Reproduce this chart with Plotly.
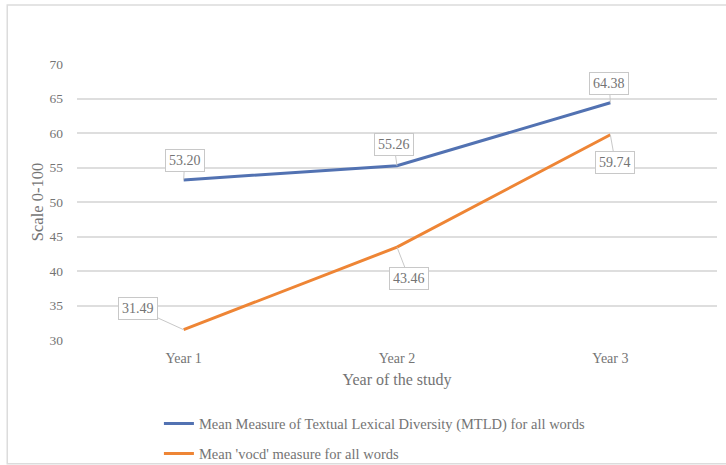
import plotly.graph_objects as go

years = ["Year 1", "Year 2", "Year 3"]
mtld = [53.20, 55.26, 64.38]
vocd = [31.49, 43.46, 59.74]
mtld_name = "Mean Measure of Textual Lexical Diversity (MTLD) for all words"
vocd_name = "Mean 'vocd' measure for all words"
y_ticks = [30, 35, 40, 45, 50, 55, 60, 65, 70]

# label offsets (px) for the callouts
mtld_off = [(1, -19), (-3, -21), (-1, -19)]
vocd_off = [(-46, -21), (12, 31), (5, 28)]

BLUE = "#5272B2"
ORANGE = "#EE8535"
TXT = "#747474"
FONT = "Liberation Serif, Times New Roman, serif"

fig = go.Figure()
fig.add_trace(go.Scatter(x=years, y=mtld, mode="lines", name=mtld_name,
                         legendgroup="a", line=dict(color=BLUE, width=3)))
fig.add_trace(go.Scatter(x=years, y=vocd, mode="lines", name=vocd_name,
                         legendgroup="b", line=dict(color=ORANGE, width=3)))

for series, offs in ((mtld, mtld_off), (vocd, vocd_off)):
    for xv, yv, (ax, ay) in zip(years, series, offs):
        fig.add_annotation(x=xv, y=yv, text=f"{yv:.2f}", showarrow=True,
                           arrowhead=0, arrowwidth=1, arrowcolor="#c8c8c8",
                           ax=ax, ay=ay, bordercolor="#c8c8c8", borderwidth=1,
                           borderpad=3, bgcolor="white",
                           font=dict(family=FONT, size=14, color=TXT))

# outer chart frame
fig.add_shape(type="rect", xref="paper", yref="paper",
              x0=-0.109, x1=1.04, y0=-0.448, y1=1.214,
              line=dict(color="#dcdcdc", width=1.5), layer="below")

fig.update_layout(
    width=726, height=465,
    margin=dict(l=77, r=9, t=64, b=125, autoexpand=False),
    paper_bgcolor="white", plot_bgcolor="white",
    font=dict(family=FONT, color=TXT, size=13),
    showlegend=True,
    legend=dict(orientation="v", x=0.128, y=-0.245, xanchor="left", yanchor="top",
                font=dict(family=FONT, size=14.5, color=TXT),
                traceorder="grouped", tracegroupgap=8, itemwidth=30,
                bgcolor="rgba(0,0,0,0)"),
    xaxis=dict(type="category", range=[-0.5, 2.5], showgrid=False, zeroline=False,
               showline=False, ticks="", tickfont=dict(family=FONT, size=14, color=TXT),
               ticklabelstandoff=8,
               title=dict(text="Year of the study", font=dict(family=FONT, size=16, color=TXT),
                          standoff=8)),
    yaxis=dict(range=[30, 70], tickvals=y_ticks, showgrid=True, gridcolor="#dedede",
               gridwidth=1.5, zeroline=False, showline=False, ticks="",
               tickfont=dict(family=FONT, size=13.5, color=TXT), ticklabelstandoff=13,
               title=dict(text="Scale 0-100", font=dict(family=FONT, size=16.5, color=TXT),
                          standoff=1)),
)

fig.write_html("out.html")
